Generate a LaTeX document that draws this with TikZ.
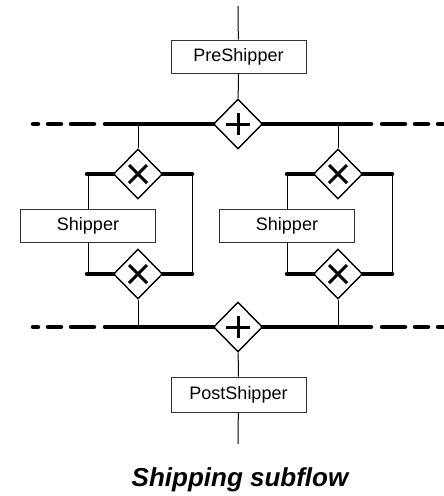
\documentclass[tikz,border=0pt]{standalone}
\usepackage{fontspec}
\setmainfont{Liberation Sans}
\usepackage{tikz}
\usetikzlibrary{shapes.geometric}

\tikzset{
  task/.style={draw=black!80, line width=1pt, fill=white, minimum width=135pt, minimum height=33pt, inner sep=0pt, font=\fontsize{18}{20}\selectfont},
  gateway/.style={diamond, draw, line width=1.4pt, fill=white, minimum width=49pt, minimum height=50pt, inner sep=0pt},
  andgate/.style={gateway, path picture={
    \draw[line width=3pt] ([xshift=-12pt]path picture bounding box.center) -- ([xshift=12pt]path picture bounding box.center)
      ([yshift=-11pt]path picture bounding box.center) -- ([yshift=11pt]path picture bounding box.center);}},
  xorgate/.style={gateway, path picture={
    \draw[line width=3pt] ([shift={(-9pt,-9pt)}]path picture bounding box.center) -- ([shift={(9pt,9pt)}]path picture bounding box.center)
      ([shift={(-9pt,9pt)}]path picture bounding box.center) -- ([shift={(9pt,-9pt)}]path picture bounding box.center);}},
  flow/.style={line width=1pt},
  bar/.style={line width=4.5pt, line cap=round},
}

\begin{document}
\begin{tikzpicture}[x=1pt, y=-1pt]
\useasboundingbox (0,0) rectangle (444,496);

% parallel split and join bars, dashed towards the edges
\foreach \y in {124, 327} {
  \draw[bar] (33,\y) -- (38,\y) (48,\y) -- (61,\y) (71,\y) -- (94,\y);
  \draw[bar] (105,\y) -- (371,\y);
  \draw[bar] (382,\y) -- (405,\y) (415,\y) -- (428,\y) (438,\y) -- (446,\y);
}
% exclusive gateway bars
\foreach \x in {87, 287} {
  \draw[bar] (\x,174) -- (\x+105,174);
  \draw[bar] (\x,274) -- (\x+105,274);
}

\coordinate (start) at (238, 6);
\coordinate (end) at (238, 444);

\node[task] (pre) at (238.5, 56.5) {PreShipper};
\node[andgate] (split) at (238, 124) {};

\node[xorgate] (xorL1) at (138, 174) {};
\node[xorgate] (xorL2) at (138, 274) {};
\node[xorgate] (xorR1) at (338, 174) {};
\node[xorgate] (xorR2) at (338, 274) {};

\node[task] (shipL) at (88, 225.5) {Shipper};
\node[task] (shipR) at (287, 225.5) {Shipper};

\node[andgate] (join) at (238, 327) {};
\node[task, minimum height=35pt] (post) at (238.5, 394.5) {PostShipper};

\coordinate (skipL1) at (192, 174);
\coordinate (skipL2) at (192, 274);
\coordinate (skipR1) at (392, 174);
\coordinate (skipR2) at (392, 274);

\draw[flow] (start) -- (pre);
\draw[flow] (pre) -- (split);
\draw[flow] (xorL1.north) -- (xorL1.north |- split);
\draw[flow] (xorR1.north) -- (xorR1.north |- split);
\draw[flow] (shipL.north) -- (shipL.north |- xorL1);
\draw[flow] (shipR.north) -- (shipR.north |- xorR1);
\draw[flow] (shipL.south) -- (shipL.south |- xorL2);
\draw[flow] (shipR.south) -- (shipR.south |- xorR2);
\draw[flow] (skipL1) -- (skipL2);
\draw[flow] (skipR1) -- (skipR2);
\draw[flow] (xorL2.south) -- (xorL2.south |- join);
\draw[flow] (xorR2.south) -- (xorR2.south |- join);
\draw[flow] (join) -- (post);
\draw[flow] (post) -- (end);

\node[anchor=base, font=\fontsize{26}{30}\selectfont\bfseries\itshape] (caption) at (240, 486) {Shipping subflow};
\end{tikzpicture}
\end{document}
